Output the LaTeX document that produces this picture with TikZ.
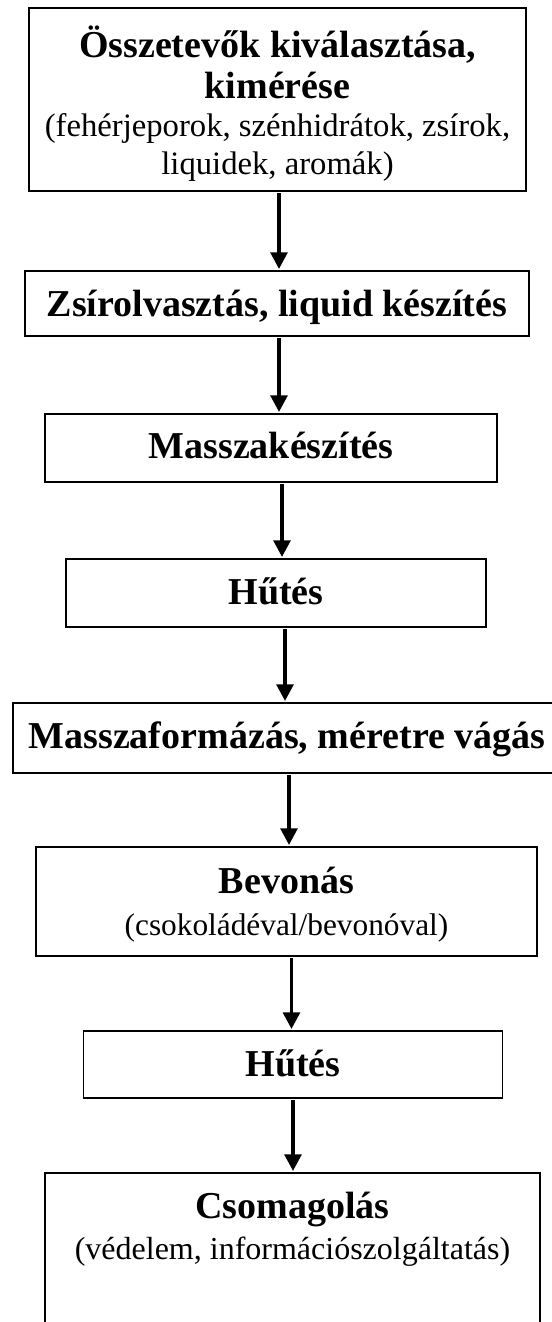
\documentclass[tikz,border=0pt]{standalone}
\usepackage{fontspec}
\setmainfont{Liberation Serif}
\usetikzlibrary{arrows.meta}
\begin{document}
\begin{tikzpicture}[x=0.75pt,y=-0.75pt,
  box/.style={draw=black,line width=1.1pt,inner sep=0pt,outer sep=0pt,fill=none},
  thickbox/.style={box,line width=1.4pt},
  ttl/.style={anchor=base,inner sep=0pt,font=\bfseries\fontsize{28.5pt}{32pt}\selectfont},
  sub/.style={anchor=base,inner sep=0pt,font=\fontsize{24pt}{27pt}\selectfont},
  arr/.style={line width=2.8pt,-{Triangle[length=12.5pt,width=12.5pt]},shorten <=1.5pt,shorten >=1.5pt}]
\useasboundingbox (0,0) rectangle (552,1322);
% boxes
\node[thickbox,minimum width=372.75pt,minimum height=137.25pt] (b1) at (277.5,99.5) {};
\node[box,minimum width=378pt,minimum height=48.75pt] (b2) at (277,303.5) {};
\node[box,minimum width=339pt,minimum height=51pt] (b3) at (271,448) {};
\node[box,minimum width=315pt,minimum height=51pt] (b4) at (276,593) {};
\node[box,minimum width=411pt,minimum height=52.5pt] (b5) at (287,738) {};
\node[thickbox,minimum width=375.75pt,minimum height=81.75pt] (b6) at (286.5,901.5) {};
\node[box,minimum width=314.6pt,minimum height=50.25pt] (b7) at (293,1064.5) {};
\node[thickbox,minimum width=371.25pt,minimum height=129pt] (b8) at (292.5,1259) {};
% texts
\node[ttl] (t1a) at (277.5,57) {Összetevők kiválasztása,};
\node[ttl] (t1b) at (277.5,98) {kimérése};
\node[sub,font=\fontsize{24.5pt}{27pt}\selectfont] (t1c) at (277.5,136) {(fehérjeporok, szénhidrátok, zsírok,};
\node[sub,font=\fontsize{24.5pt}{27pt}\selectfont] (t1d) at (277.5,174) {liquidek, aromák)};
\node[ttl] (t2) at (277,316) {Zsírolvasztás, liquid készítés};
\node[ttl] (t3) at (271,458.5) {Masszakészítés};
\node[ttl] (t4) at (276,604) {Hűtés};
\node[ttl] (t5) at (287,748) {Masszaformázás, méretre vágás};
\node[ttl] (t6a) at (286.5,893) {Bevonás};
\node[sub,font=\fontsize{23.5pt}{27pt}\selectfont] (t6b) at (286.5,935) {(csokoládéval/bevonóval)};
\node[ttl] (t7) at (293,1076) {Hűtés};
\node[ttl] (t8a) at (292.5,1218.5) {Csomagolás};
\node[sub] (t8b) at (292.5,1259) {(védelem, információszolgáltatás)};
% arrow columns
\coordinate (x1) at (279,0);
\coordinate (x2) at (279,0);
\coordinate (x3) at (282,0);
\coordinate (x4) at (285,0);
\coordinate (x5) at (289,0);
\coordinate (x6) at (291.5,0);
\coordinate (x7) at (293,0);
\draw[arr] (b1.south -| x1) -- (b2.north -| x1);
\draw[arr] (b2.south -| x2) -- (b3.north -| x2);
\draw[arr] (b3.south -| x3) -- (b4.north -| x3);
\draw[arr] (b4.south -| x4) -- (b5.north -| x4);
\draw[arr] (b5.south -| x5) -- (b6.north -| x5);
\draw[arr] (b6.south -| x6) -- (b7.north -| x6);
\draw[arr] (b7.south -| x7) -- (b8.north -| x7);
\end{tikzpicture}
\end{document}
